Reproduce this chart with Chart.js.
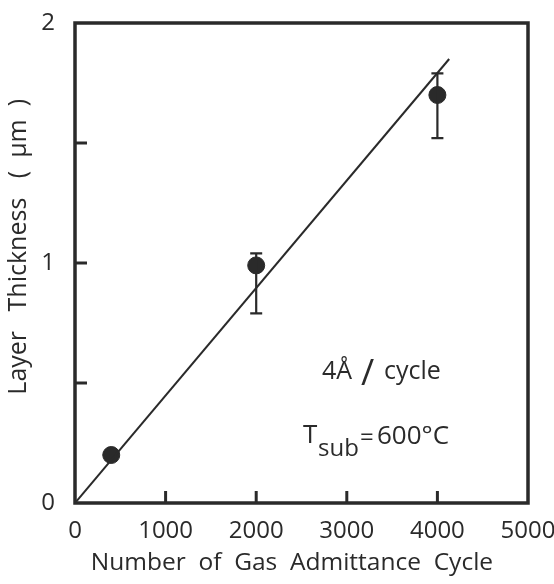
<!DOCTYPE html>
<html>
<head>
<meta charset="utf-8">
<script src="https://cdn.jsdelivr.net/npm/chart.js@4"></script>
<style>
  html, body { margin: 0; padding: 0; background: #fff; }
  #wrap { width: 554px; height: 584px; }
</style>
</head>
<body>
<div id="wrap"><canvas id="myChart" width="554" height="584"></canvas></div>
<script>
// data
const cycles = [400, 2000, 4000];
const thickness = [0.2, 0.99, 1.70];
const errLow = [0.2, 0.79, 1.52];
const errHigh = [0.2, 1.04, 1.79];
const fitX = [0, 4130];
const fitY = [0, 1.85];

const ink = '#2a2a2a';
const fontName = "'Open Sans', 'DejaVu Sans', sans-serif";

// error bars, inward ticks and the two notes
const extras = {
    id: 'extras',
    afterDatasetsDraw(chart) {
        const ctx = chart.ctx;
        const xs = chart.scales.x;
        const ys = chart.scales.y;
        const area = chart.chartArea;
        ctx.save();
        ctx.strokeStyle = ink;
        // error bars
        ctx.lineWidth = 2.2;
        cycles.forEach((c, i) => {
            if (errLow[i] === errHigh[i]) return;
            const px = xs.getPixelForValue(c);
            const top = ys.getPixelForValue(errHigh[i]);
            const bot = ys.getPixelForValue(errLow[i]);
            ctx.beginPath();
            ctx.moveTo(px, top); ctx.lineTo(px, bot);
            ctx.moveTo(px - 6, top); ctx.lineTo(px + 6, top);
            ctx.moveTo(px - 6, bot); ctx.lineTo(px + 6, bot);
            ctx.stroke();
        });
        // inward ticks
        ctx.lineWidth = 3;
        xs.ticks.forEach(t => {
            if (t.value === xs.min || t.value === xs.max) return;
            const px = xs.getPixelForValue(t.value);
            ctx.beginPath();
            ctx.moveTo(px, area.bottom); ctx.lineTo(px, area.bottom - 12);
            ctx.stroke();
        });
        ys.ticks.forEach(t => {
            if (t.value === ys.min || t.value === ys.max) return;
            const py = ys.getPixelForValue(t.value);
            ctx.beginPath();
            ctx.moveTo(area.left, py); ctx.lineTo(area.left + 12, py);
            ctx.stroke();
        });
        // frame
        ctx.lineWidth = 3.5;
        ctx.strokeRect(area.left, area.top, area.right - area.left, area.bottom - area.top);
        // notes
        ctx.fillStyle = ink;
        ctx.textBaseline = 'alphabetic';
        ctx.font = '25px ' + fontName;
        ctx.fillText('4Å', 322, 379);
        ctx.font = '36px ' + fontName;
        ctx.fillText('/', 361, 385);
        ctx.font = '25px ' + fontName;
        ctx.fillText('cycle', 384, 379);
        ctx.font = '26px ' + fontName;
        ctx.fillText('T', 303, 443);
        ctx.font = '24px ' + fontName;
        ctx.fillText('sub', 318, 456);
        ctx.fillText('=', 360, 445);
        ctx.font = '26px ' + fontName;
        ctx.fillText('600°C', 377, 444);
        ctx.restore();
    }
};

const ctx = document.querySelector('#myChart');
const chart = new Chart(ctx, {
    type: 'scatter',
    data: {
        datasets: [
            {
                label: 'fit',
                type: 'line',
                data: fitX.map((x, i) => ({ x, y: fitY[i] })),
                borderColor: ink,
                borderWidth: 2,
                pointRadius: 0,
                fill: false,
            },
            {
                label: 'thickness',
                data: cycles.map((x, i) => ({ x, y: thickness[i] })),
                backgroundColor: ink,
                borderColor: ink,
                pointRadius: 8.5,
            },
        ],
    },
    options: {
        responsive: false,
        animation: false,
        layout: { padding: { top: 23, right: 26, left: 4, bottom: 6 } },
        plugins: {
            legend: { display: false },
            tooltip: { enabled: false },
        },
        scales: {
            x: {
                type: 'linear',
                min: 0,
                max: 5000,
                border: { display: false },
                grid: { display: false },
                ticks: {
                    stepSize: 1000,
                    color: ink,
                    padding: 6,
                    maxRotation: 0,
                    font: { family: fontName, size: 24 },
                    callback: (v) => String(v),
                },
                title: {
                    display: true,
                    text: 'Number  of  Gas  Admittance  Cycle   ',
                    color: ink,
                    padding: { top: 2, bottom: 0 },
                    font: { family: fontName, size: 24.5 },
                },
                afterFit: (scale) => {
                    scale.height = 584 - 503 - 6;
                    scale.paddingRight = 0;
                    scale.paddingLeft = 0;
                },
            },
            y: {
                min: 0,
                max: 2,
                border: { display: false },
                grid: { display: false },
                ticks: {
                    stepSize: 0.5,
                    color: ink,
                    padding: 12,
                    font: { family: fontName, size: 24 },
                    callback: (v) => (Number.isInteger(v) ? v : ''),
                },
                title: {
                    display: true,
                    text: '     Layer   Thickness   (  µm  )',
                    color: ink,
                    padding: { top: 0, bottom: 2 },
                    font: { family: fontName, size: 25 },
                },
                afterFit: (scale) => {
                    scale.width = 75 - 4;
                    scale.paddingTop = 0;
                    scale.paddingBottom = 0;
                },
            },
        },
    },
    plugins: [extras],
});
</script>
</body>
</html>
